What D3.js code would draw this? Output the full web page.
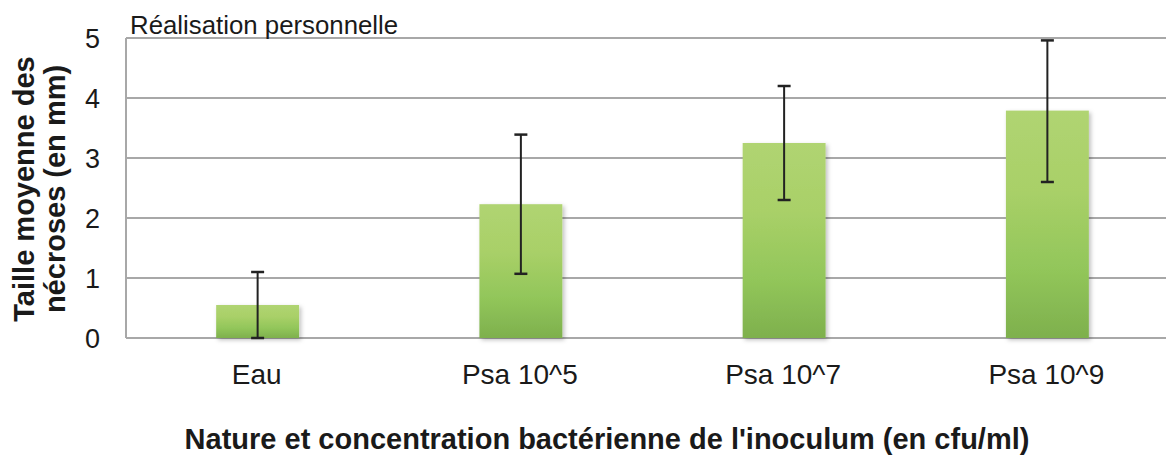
<!DOCTYPE html>
<html><head><meta charset="utf-8">
<script src="https://cdn.jsdelivr.net/npm/d3@7"></script>
<style>body{margin:0;background:#fff}svg{display:block}</style>
</head><body>
<svg id="c" width="1166" height="457"></svg>
<script>
const categories = ["Eau", "Psa 10^5", "Psa 10^7", "Psa 10^9"];
const means = [0.55, 2.23, 3.25, 3.79];
const errLow = [0.0, 1.07, 2.30, 2.60];
const errHigh = [1.10, 3.39, 4.20, 4.96];
const yTicks = [0, 1, 2, 3, 4, 5];

const svg = d3.select("#c");
const font = "'Liberation Sans', Arial, sans-serif";
const plotLeft = 126, plotRight = 1179, plotTop = 38, plotBottom = 338;

const x = d3.scaleBand().domain(categories).range([plotLeft, plotRight]).paddingInner(0.685).paddingOuter(0.3425);
const y = d3.scaleLinear().domain([0, 5]).range([plotBottom, plotTop]);

const defs = svg.append("defs");
const g = defs.append("linearGradient").attr("id", "barGrad").attr("x1", 0).attr("x2", 0).attr("y1", 0).attr("y2", 1);
g.append("stop").attr("offset", "0%").attr("stop-color", "#b0d472");
g.append("stop").attr("offset", "35%").attr("stop-color", "#a9d068");
g.append("stop").attr("offset", "70%").attr("stop-color", "#92c65a");
g.append("stop").attr("offset", "100%").attr("stop-color", "#7eb04d");
const f = defs.append("filter").attr("id", "sh").attr("x", "-20%").attr("y", "-20%").attr("width", "140%").attr("height", "140%");
f.append("feDropShadow").attr("dx", 2).attr("dy", 2).attr("stdDeviation", 2).attr("flood-color", "#000").attr("flood-opacity", 0.25);

// gridlines
svg.append("g").selectAll("line").data(yTicks).join("line")
  .attr("x1", plotLeft).attr("x2", 1166)
  .attr("y1", d => y(d)).attr("y2", d => y(d))
  .attr("stroke", "#a8a8a8").attr("stroke-width", 2);
// left axis line
svg.append("line").attr("x1", plotLeft).attr("x2", plotLeft).attr("y1", plotTop).attr("y2", plotBottom)
  .attr("stroke", "#a8a8a8").attr("stroke-width", 2);

// y tick labels
svg.append("g").selectAll("text").data(yTicks).join("text")
  .attr("x", 100).attr("y", d => y(d)).attr("dy", "0.36em")
  .attr("text-anchor", "end").attr("font-family", font).attr("font-size", 27).attr("fill", "#1a1a1a")
  .text(d => d);

// bars
svg.append("g").selectAll("rect").data(categories).join("rect")
  .attr("x", d => x(d)).attr("width", x.bandwidth())
  .attr("y", (d, i) => y(means[i])).attr("height", (d, i) => y(0) - y(means[i]))
  .attr("fill", "url(#barGrad)").attr("filter", "url(#sh)");

// error bars
const eb = svg.append("g").attr("stroke", "#222").attr("stroke-width", 2);
categories.forEach((c, i) => {
  const cx = x(c) + x.bandwidth() / 2;
  eb.append("line").attr("x1", cx).attr("x2", cx).attr("y1", y(errLow[i])).attr("y2", y(errHigh[i]));
  [errLow[i], errHigh[i]].forEach(v => {
    eb.append("line").attr("x1", cx - 6.5).attr("x2", cx + 6.5).attr("y1", y(v)).attr("y2", y(v)).attr("stroke-width", 2.5);
  });
});

// category labels
svg.append("g").selectAll("text").data(categories).join("text")
  .attr("x", d => x(d) + x.bandwidth() / 2 - 1).attr("y", 384)
  .attr("text-anchor", "middle").attr("font-family", font).attr("font-size", 28).attr("fill", "#1a1a1a")
  .text(d => d);

// note
svg.append("text").attr("x", 130).attr("y", 34).attr("font-family", font).attr("font-size", 25.8).attr("fill", "#1a1a1a")
  .text("Réalisation personnelle");

// x title
svg.append("text").attr("x", 607).attr("y", 449).attr("text-anchor", "middle")
  .attr("font-family", font).attr("font-size", 29).attr("font-weight", "bold").attr("fill", "#1a1a1a")
  .text("Nature et concentration bactérienne de l'inoculum (en cfu/ml)");

// y title
const yt = svg.append("text").attr("transform", "translate(0,189) rotate(-90)")
  .attr("text-anchor", "middle").attr("font-family", font).attr("font-size", 29).attr("font-weight", "bold").attr("fill", "#1a1a1a");
yt.append("tspan").attr("x", 0).attr("y", 34).text("Taille moyenne des");
yt.append("tspan").attr("x", 0).attr("y", 65).text("nécroses (en mm)");
</script>
</body></html>
